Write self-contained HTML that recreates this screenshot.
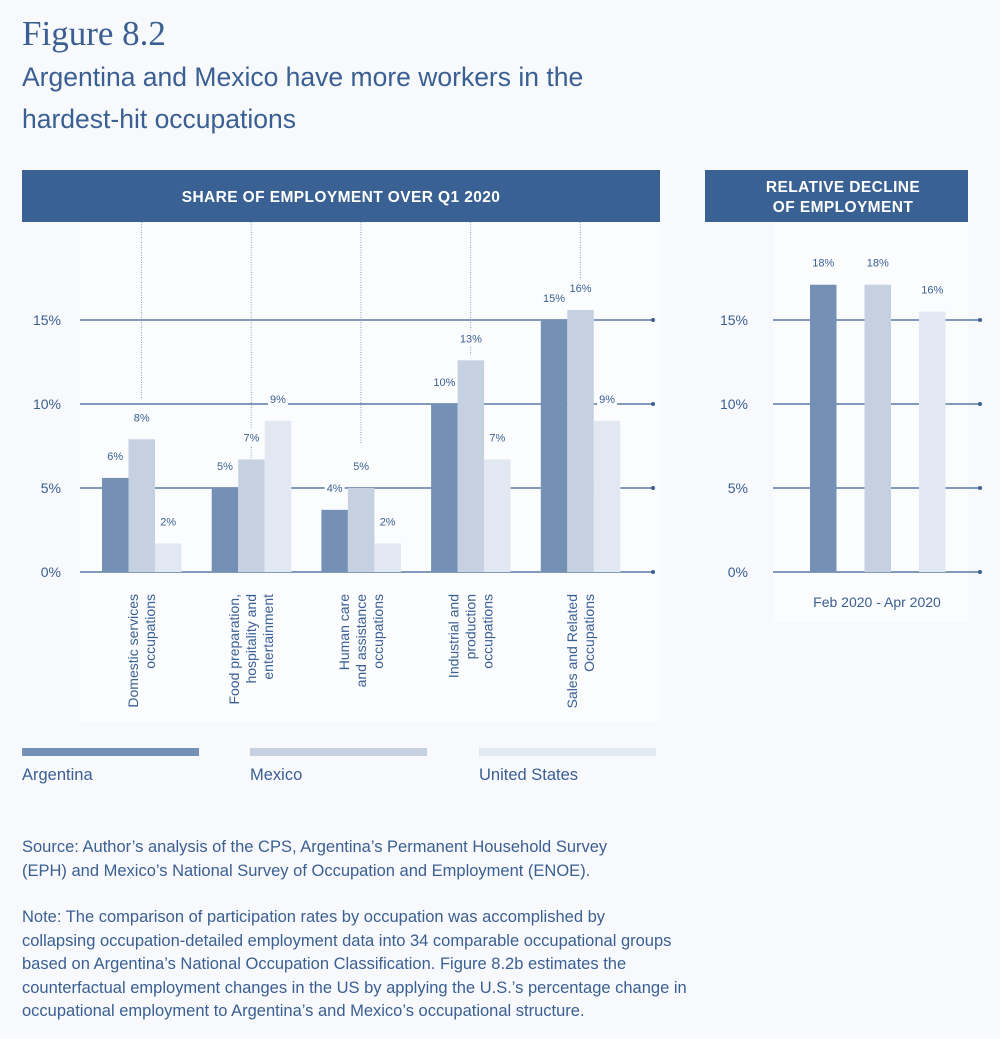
<!DOCTYPE html>
<html><head><meta charset="utf-8"><style>
body{margin:0;background:#f7f9fc;font-family:"Liberation Sans",sans-serif;color:#3a5f93;}
#wrap{position:relative;width:1000px;height:1039px;overflow:hidden;}
.t{position:absolute;white-space:nowrap;}
</style></head><body><div id="wrap">
<div class="t" style="left:22px;top:14px;font-family:'Liberation Serif',serif;font-size:35px;color:#3a5f93">Figure 8.2</div>
<div class="t" style="left:22px;top:56px;font-size:26.5px;line-height:42px;color:#3a5f93">Argentina and Mexico have more workers in the<br>hardest-hit occupations</div>
<svg id="chart" width="1000" height="800" style="position:absolute;left:0;top:0"></svg>
<div class="t" style="left:22px;top:836px;font-size:16.5px;line-height:23.5px;color:#3a5f93">Source: Author’s analysis of the CPS, Argentina’s Permanent Household Survey<br>(EPH) and Mexico’s National Survey of Occupation and Employment (ENOE).</div>
<div class="t" style="left:22px;top:906px;font-size:16.5px;line-height:23.5px;color:#3a5f93">Note: The comparison of participation rates by occupation was accomplished by<br>collapsing occupation-detailed employment data into 34 comparable occupational groups<br>based on Argentina’s National Occupation Classification. Figure 8.2b estimates the<br>counterfactual employment changes in the US by applying the U.S.’s percentage change in<br>occupational employment to Argentina’s and Mexico’s occupational structure.</div>
</div>
<script>
const categories=[["Domestic services","occupations"],["Food preparation,","hospitality and","entertainment"],["Human care","and assistance","occupations"],["Industrial and","production","occupations"],["Sales and Related","Occupations"]];
const argentina=[5.6,5.0,3.7,10.0,15.0];
const mexico=[7.9,6.7,5.0,12.6,15.6];
const us=[1.7,9.0,1.7,6.7,9.0];
const argLabels=["6%","5%","4%","10%","15%"];
const mexLabels=["8%","7%","5%","13%","16%"];
const usLabels=["2%","9%","2%","7%","9%"];
const declineValues=[17.1,17.1,15.5];
const declineLabels=["18%","18%","16%"];
const ticks=[0,5,10,15];
const seriesNames=["Argentina","Mexico","United States"];
const colors=["#7491b5","#c5d1e1","#e2e8f1"];
const NS="http://www.w3.org/2000/svg";
const svg=document.getElementById('chart');
function mk(tag,attrs,parent){const e=document.createElementNS(NS,tag);for(const k in attrs)e.setAttribute(k,attrs[k]);(parent||svg).appendChild(e);return e;}
const y=v=>572-v*16.8;
const gx=i=>102+i*109.7;
let r=mk('rect',{x:80,y:222,width:580,height:500,fill:'#fbfcfe'});


r=mk('rect',{x:773,y:222,width:195,height:400,fill:'#fbfcfe'});


r=mk('rect',{x:22,y:170,width:638,height:52,fill:'#3a6193'});


let t=mk('text',{x:341,y:202,'text-anchor':'middle',fill:'#fff','font-size':15.5,'font-weight':'bold','letter-spacing':0.4});t.textContent='SHARE OF EMPLOYMENT OVER Q1 2020';


r=mk('rect',{x:705,y:170,width:263,height:52,fill:'#3a6193'});


t=mk('text',{x:843,y:192,'text-anchor':'middle',fill:'#fff','font-size':15.5,'font-weight':'bold','letter-spacing':0.4});t.textContent='RELATIVE DECLINE';


t=mk('text',{x:843,y:212,'text-anchor':'middle',fill:'#fff','font-size':15.5,'font-weight':'bold','letter-spacing':0.4});t.textContent='OF EMPLOYMENT';


const leaderEnd=[400,478,444,355,290];
categories.forEach((c,i)=>{const l=mk('line',{x1:gx(i)+39.5,x2:gx(i)+39.5,y1:222,y2:leaderEnd[i],stroke:'#8ca0bd','stroke-width':1,'stroke-dasharray':'1,1.5'});

});
ticks.forEach(v=>{
 [[80,653],[773,980]].forEach(([a,b],p)=>{
 const l=mk('line',{x1:a,x2:b,y1:y(v),y2:y(v),stroke:'#3a6193','stroke-width':1.2});
 
 
 const d=mk('circle',{cx:b,cy:y(v),r:2,fill:'#3a6193'});
 
 
 const tx=mk('text',{x:p?748:61,y:y(v)+5,'text-anchor':'end',fill:'#3a5f93','font-size':14});tx.textContent=v+'%';
 
 
 });
});
function bar(x,v,col,lab,name){
 const b=mk('rect',{x:x,y:y(v),width:26.5,height:y(0)-y(v),fill:col});
 
 
 const w=lab.length*7+6;
 const bg=mk('rect',{x:x+13.25-w/2,y:y(v)-30,width:w,height:16,fill:'#fbfcfe'});
 
 
 const tx=mk('text',{x:x+13.25,y:y(v)-18,'text-anchor':'middle',fill:'#3a5f93','font-size':11});tx.textContent=lab;
 
 
}
categories.forEach((c,i)=>{
 bar(gx(i),argentina[i],colors[0],argLabels[i],'bar-argentina');
 bar(gx(i)+26.5,mexico[i],colors[1],mexLabels[i],'bar-mexico');
 bar(gx(i)+53,us[i],colors[2],usLabels[i],'bar-united-states');
 const g=mk('text',{'font-size':14,fill:'#3a5f93','text-anchor':'end'});
 
 
 const n=c.length,cx=gx(i)+39.5;
 c.forEach((line,k)=>{const ts=mk('tspan',{x:0,y:(k-(n-1)/2)*17+5},g);ts.textContent=line;});
 g.setAttribute('transform',`translate(${cx},594) rotate(-90)`);
});
const dx=[810,864.5,919];
declineValues.forEach((v,i)=>bar(dx[i],v,colors[i],declineLabels[i],'decline-bar-'+['argentina','mexico','united-states'][i]));
t=mk('text',{x:877,y:607,'text-anchor':'middle',fill:'#3a5f93','font-size':14});t.textContent='Feb 2020 - Apr 2020';


const lx=[22,250,479];
seriesNames.forEach((s,i)=>{
 const lr=mk('rect',{x:lx[i],y:748,width:177,height:8,fill:colors[i]});
 
 
 const lt=mk('text',{x:lx[i],y:780,fill:'#3a5f93','font-size':16.5});lt.textContent=s;
 
 
});
</script></body></html>
